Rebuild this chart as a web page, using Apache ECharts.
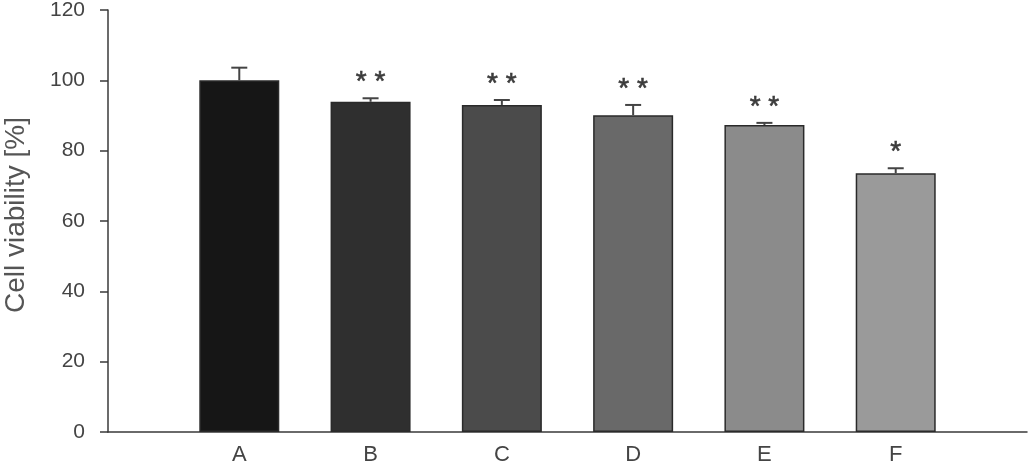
<!DOCTYPE html>
<html>
<head>
<meta charset="utf-8">
<script src="https://cdn.jsdelivr.net/npm/echarts@6/dist/echarts.min.js"></script>
<style>
  html, body { margin: 0; padding: 0; background: #fff; }
  #chart { width: 1033px; height: 472px; }
</style>
</head>
<body>
<div id="chart"></div>
<script>
// data
const categories = ["A", "B", "C", "D", "E", "F"];
const viability = [100, 93.9, 93.0, 90.1, 87.3, 73.6];
const errors = [3.6, 1.0, 1.4, 2.9, 0.6, 1.4];
const significance = ["", "**", "**", "**", "**", "*"];
const yTicks = [0, 20, 40, 60, 80, 100, 120];

const barColors = ["#161616", "#2f2f2f", "#4b4b4b", "#696969", "#8b8b8b", "#9a9a9a"];
const FONT = "'Liberation Sans', Arial, sans-serif";

const chart = echarts.init(document.getElementById("chart"));

// bars sit at x = 1..6 on a 0..7 value axis
const barData = viability.map((v, i) => ({
  value: [i + 1, v],
  itemStyle: { color: barColors[i] }
}));
const errData = viability.map((v, i) => [i + 1, v, errors[i], significance[i]]);

const option = {
  animation: false,
  grid: { left: 108, right: 6, top: 10, bottom: 40, outerBoundsMode: "none" },
  xAxis: {
    type: "value",
    min: 0,
    max: 7,
    interval: 1,
    splitLine: { show: false },
    axisTick: { show: false },
    axisLine: { lineStyle: { color: "#3a3a3a", width: 1.5 } },
    axisLabel: {
      margin: 12,
      fontFamily: FONT,
      fontSize: 22,
      color: "#444",
      formatter: v => categories[v - 1] || ""
    }
  },
  yAxis: {
    type: "value",
    min: yTicks[0],
    max: yTicks[yTicks.length - 1],
    interval: 20,
    name: "Cell viability [%]",
    nameLocation: "middle",
    nameGap: 78,
    nameTextStyle: { fontFamily: FONT, fontSize: 28, color: "#555", padding: [0, 0, 0, 12] },
    splitLine: { show: false },
    axisLine: { show: true, lineStyle: { color: "#3a3a3a", width: 1.5 } },
    axisTick: { show: true, length: 8, lineStyle: { color: "#3a3a3a", width: 1.5 } },
    axisLabel: { margin: 23, fontFamily: FONT, fontSize: 21, color: "#444" }
  },
  series: [
    {
      type: "bar",
      barWidth: 80,
      data: barData,
      itemStyle: { borderColor: "#2a2a2a", borderWidth: 1.5 }
    },
    {
      type: "custom",
      z: 5,
      data: errData,
      renderItem: (params, api) => {
        const x = api.value(0);
        const v = api.value(1);
        const e = api.value(2);
        const sig = errData[params.dataIndex][3];
        const p0 = api.coord([x, v]);
        const p1 = api.coord([x, v + e]);
        const style = { stroke: "#444", lineWidth: 2 };
        const children = [
          { type: "line", shape: { x1: p0[0], y1: p0[1], x2: p1[0], y2: p1[1] }, style },
          { type: "line", shape: { x1: p1[0] - 8, y1: p1[1], x2: p1[0] + 8, y2: p1[1] }, style }
        ];
        if (sig) {
          children.push({
            type: "text",
            style: {
              text: sig.split("").join(" "),
              x: p1[0],
              y: p1[1] - 2,
              align: "center",
              verticalAlign: "bottom",
              font: "28px " + FONT,
              fill: "#3c3c3c",
              stroke: "#3c3c3c",
              lineWidth: 0.6
            }
          });
        }
        return { type: "group", children };
      }
    }
  ]
};

chart.setOption(option);
</script>
</body>
</html>
